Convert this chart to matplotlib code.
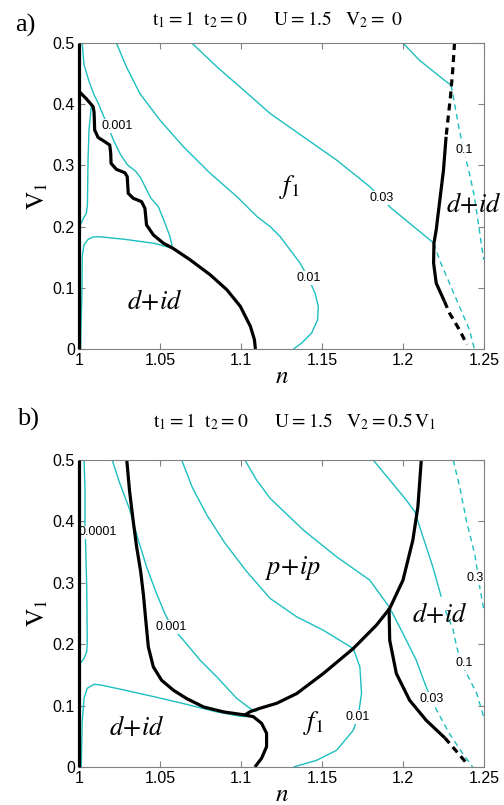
# -*- coding: utf-8 -*-
"""
Phase diagram in the (n, V1) plane, two panels: V2=0 and V2=0.5 V1.
Cyan lines are gap contours, black lines are phase boundaries.
"""
import matplotlib.pyplot as plt
import numpy as np

plt.rcParams['mathtext.fontset'] = 'stix'

CYAN = '#1cbfc0'
GREY = '#808080'

xticks = [1, 1.05, 1.1, 1.15, 1.2, 1.25]
xticklabels = ['1', '1.05', '1.1', '1.15', '1.2', '1.25']
yticks = [0, 0.1, 0.2, 0.3, 0.4, 0.5]
yticklabels = ['0', '0.1', '0.2', '0.3', '0.4', '0.5']

# ---------------- panel a) V2 = 0 ----------------
a_n1 = np.array([[1.0, 0.0], [1.0, 0.5]])
a_bound = np.array([
    [1.0, 0.421], [1.0045, 0.409], [1.0087, 0.396], [1.0093, 0.3875],
    [1.0097, 0.3576], [1.0118, 0.3457], [1.016, 0.3386], [1.019, 0.3332],
    [1.0196, 0.3196], [1.0198, 0.3033], [1.0231, 0.2935], [1.0283, 0.288],
    [1.0298, 0.2815], [1.0304, 0.2543], [1.0335, 0.2462], [1.0386, 0.2408],
    [1.0407, 0.2299], [1.0417, 0.2027], [1.0459, 0.1864], [1.0521, 0.1728],
    [1.0579, 0.1647], [1.0686, 0.1457], [1.081, 0.1212], [1.0913, 0.0967],
    [1.0996, 0.0696], [1.1058, 0.037], [1.1083, 0.0152], [1.1089, 0.0]])
a_right_top = np.array([[1.2318, 0.5], [1.2307, 0.4554], [1.2293, 0.412],
                        [1.2277, 0.3739], [1.2266, 0.3467]])
a_right_mid = np.array([[1.2266, 0.3467], [1.225, 0.2924], [1.2225, 0.238],
                        [1.2205, 0.1946], [1.2191, 0.1728], [1.2189, 0.1402],
                        [1.2205, 0.1076], [1.2256, 0.0777]])
a_right_bot = np.array([[1.2256, 0.0777], [1.2287, 0.0587], [1.2348, 0.0315],
                        [1.2395, 0.0071]])

a_c001 = np.array([
    [1.002, 0.5], [1.0031, 0.4645], [1.0062, 0.4374], [1.0093, 0.4155],
    [1.0123, 0.3992], [1.0144, 0.3856], [1.0216, 0.3394], [1.0257, 0.3175],
    [1.0298, 0.3012], [1.035, 0.2904], [1.0381, 0.2794], [1.0412, 0.2631],
    [1.0443, 0.2467], [1.049, 0.2325], [1.0531, 0.2054], [1.0562, 0.1835],
    [1.0578, 0.1645]])
a_c001b = np.array([
    [1.0076, 0.3966], [1.0062, 0.3579], [1.0056, 0.3088], [1.0053, 0.2521],
    [1.0052, 0.2353], [1.0046, 0.2222], [1.0025, 0.2124], [1.0009, 0.2026],
    [1.0003, 0.19]])
a_dome = np.array([
    [1.001, 0.0], [1.0012, 0.031], [1.0019, 0.0964], [1.002, 0.151],
    [1.0031, 0.17], [1.0056, 0.179], [1.0086, 0.183], [1.0123, 0.1835],
    [1.0278, 0.1793], [1.0463, 0.1727], [1.0578, 0.1645]])
a_c01 = np.array([
    [1.0231, 0.5], [1.0293, 0.4609], [1.0376, 0.4174], [1.05, 0.3739],
    [1.0645, 0.3304], [1.081, 0.287], [1.0975, 0.2489], [1.1099, 0.2163],
    [1.118, 0.2], [1.1242, 0.1837], [1.1303, 0.162], [1.1365, 0.1402],
    [1.1416, 0.1158], [1.1457, 0.0913], [1.1477, 0.0696], [1.1473, 0.0478],
    [1.1436, 0.026], [1.1375, 0.0098], [1.1324, 0.0]])
a_c03 = np.array([
    [1.0696, 0.5], [1.0852, 0.4609], [1.1017, 0.4228], [1.118, 0.3848],
    [1.1385, 0.3467], [1.159, 0.3087], [1.1795, 0.2652], [1.1867, 0.2462],
    [1.1928, 0.2299], [1.2041, 0.2054], [1.2191, 0.1728]])
a_c03_d = np.array([[1.2191, 0.1728], [1.2225, 0.1457], [1.2287, 0.1076],
                    [1.2348, 0.0696], [1.241, 0.0315], [1.2441, 0.0]])
a_c1 = np.array([[1.2, 0.5], [1.2102, 0.4717], [1.2205, 0.45],
                 [1.2256, 0.4391], [1.2297, 0.431]])
a_c1_d = np.array([[1.2297, 0.431], [1.2318, 0.4011], [1.2348, 0.3576],
                   [1.2375, 0.325], [1.241, 0.287], [1.2441, 0.2489],
                   [1.2471, 0.1946], [1.2498, 0.1457]])
a_labels = ['0.001', '0.01', '0.03', '0.1']
a_label_pos = [(1.0236, 0.364), (1.1416, 0.1158), (1.1867, 0.2462), (1.2375, 0.325)]

# ---------------- panel b) V2 = 0.5 V1 ----------------
b_n1 = np.array([[1.0, 0.0], [1.0, 0.5]])
b_bound1 = np.array([
    [1.0295, 0.5], [1.0312, 0.45], [1.0335, 0.40], [1.0355, 0.36],
    [1.0381, 0.318], [1.0398, 0.28], [1.0412, 0.24], [1.0428, 0.1957],
    [1.0459, 0.163], [1.051, 0.1413], [1.0583, 0.125], [1.0665, 0.1114],
    [1.0769, 0.0978], [1.0893, 0.0897], [1.1025, 0.0847], [1.1076, 0.082],
    [1.1127, 0.0712], [1.1158, 0.0549], [1.1158, 0.0331], [1.1127, 0.0142],
    [1.1086, 0.0]])
b_bound2 = np.array([
    [1.1025, 0.0847], [1.1055, 0.09], [1.1117, 0.0956], [1.122, 0.1037],
    [1.1344, 0.1196], [1.1508, 0.1522], [1.1693, 0.1929], [1.1836, 0.231],
    [1.1918, 0.2582], [1.2, 0.3043], [1.2061, 0.3696], [1.2092, 0.4239],
    [1.2113, 0.5]])
b_bound3 = np.array([[1.1914, 0.2582], [1.1918, 0.2065], [1.1959, 0.1522],
                     [1.2041, 0.1087], [1.2143, 0.0761], [1.2258, 0.0475]])
b_bound3_d = np.array([[1.2258, 0.0475], [1.2307, 0.0326], [1.2403, 0.003]])

b_c0001 = np.array([
    [1.0031, 0.5], [1.0037, 0.4539], [1.0037, 0.3969], [1.0041, 0.3616],
    [1.0048, 0.291], [1.0051, 0.2041], [1.0048, 0.1878], [1.0031, 0.177],
    [1.001, 0.1689], [1.0, 0.1607]])
b_dome = np.array([
    [1.0014, 0.0], [1.002, 0.0738], [1.0031, 0.1119], [1.0051, 0.1282],
    [1.0093, 0.1347], [1.0134, 0.1336], [1.0278, 0.1254], [1.0463, 0.1145],
    [1.0645, 0.1033], [1.0851, 0.0897], [1.0996, 0.0826], [1.1055, 0.0819]])
b_c001 = np.array([
    [1.0205, 0.5], [1.0252, 0.462], [1.0314, 0.4185], [1.0366, 0.3696],
    [1.0417, 0.3261], [1.0475, 0.285], [1.053, 0.25], [1.0572, 0.2283],
    [1.0645, 0.2065], [1.0748, 0.1739], [1.0851, 0.1467], [1.0973, 0.1119],
    [1.1055, 0.0956], [1.1096, 0.0901]])
b_c01 = np.array([
    [1.0634, 0.5], [1.07, 0.455], [1.079, 0.41], [1.09, 0.365],
    [1.103, 0.32], [1.118, 0.2745], [1.1344, 0.2446], [1.1508, 0.2228],
    [1.1693, 0.1929], [1.1734, 0.163], [1.1744, 0.1196], [1.1723, 0.0815],
    [1.1693, 0.0598], [1.159, 0.0272], [1.1467, 0.0109], [1.1324, 0.0]])
b_c03 = np.array([
    [1.1024, 0.5], [1.1096, 0.4674], [1.118, 0.4375], [1.1385, 0.3859],
    [1.159, 0.3424], [1.1795, 0.3043], [1.1918, 0.2595], [1.2, 0.2174],
    [1.2082, 0.1739], [1.2143, 0.1304], [1.2174, 0.1114]])
b_c03_d = np.array([[1.2174, 0.1114], [1.2207, 0.0928], [1.2287, 0.0543],
                    [1.2369, 0.0217], [1.243, 0.0]])
b_c1 = np.array([[1.1816, 0.5], [1.1918, 0.4674], [1.202, 0.4348],
                 [1.2073, 0.4158], [1.2123, 0.375], [1.2184, 0.3261],
                 [1.2236, 0.2772]])
b_c1_d = np.array([[1.2262, 0.255], [1.231, 0.2231], [1.2331, 0.196],
                   [1.236, 0.169], [1.2455, 0.12], [1.2498, 0.0815]])
b_c3_d = np.array([[1.231, 0.5], [1.2352, 0.4539], [1.2393, 0.3995],
                   [1.2444, 0.3453], [1.2475, 0.291], [1.25, 0.255]])
b_labels = ['0.0001', '0.001', '0.01', '0.03', '0.1', '0.3']
b_label_pos = [(1.0118, 0.382), (1.0572, 0.2283), (1.1723, 0.0815),
               (1.2174, 0.1114), (1.2375, 0.169), (1.2444, 0.308)]


def line(ax, pts, color, lw, dashed=False, clip=True, z=2):
    ls = (0, (4, 3)) if dashed else '-'
    ax.plot(pts[:, 0], pts[:, 1], color=color, lw=lw, ls=ls, zorder=z,
            solid_joinstyle='round', solid_capstyle='butt', clip_on=clip)


def setup(ax):
    ax.set_xlim(1, 1.25)
    ax.set_ylim(0, 0.5)
    ax.set_xticks(xticks)
    ax.set_xticklabels(xticklabels, family='Liberation Sans', fontsize=11.5)
    ax.set_yticks(yticks)
    ax.set_yticklabels(yticklabels, family='Liberation Sans', fontsize=11.5)
    ax.tick_params(direction='in', top=True, right=True, length=4,
                   color=GREY, pad=3)
    for s in ax.spines.values():
        s.set_color(GREY)
    ax.set_xlabel(r'$n$', fontsize=18, labelpad=-3)
    ax.set_ylabel(r'$\mathrm{V_1}$', fontsize=18, labelpad=2)


def contour_label(ax, txt, pos):
    ax.text(pos[0], pos[1], txt, fontsize=9, family='Liberation Sans',
            ha='center', va='center',
            bbox=dict(facecolor='white', edgecolor='none', pad=0.6))


fig = plt.figure(figsize=(5.04, 8.05), dpi=100)
axa = fig.add_axes([0.1567, 0.5665, 0.8036, 0.3801])
axb = fig.add_axes([0.1567, 0.0472, 0.8036, 0.3814])

# panel a
for c in [a_c001, a_c001b, a_dome, a_c01, a_c03, a_c1]:
    line(axa, c, CYAN, 1.0)
for c in [a_c03_d, a_c1_d]:
    line(axa, c, CYAN, 1.0, dashed=True)
for t, p in zip(a_labels, a_label_pos):
    contour_label(axa, t, p)
line(axa, a_n1, 'black', 2.3, clip=False, z=4)
line(axa, a_bound, 'black', 2.3)
line(axa, a_right_mid, 'black', 2.3)
for c in [a_right_top, a_right_bot]:
    axa.plot(c[:, 0], c[:, 1], color='black', lw=2.3, ls=(0, (2.2, 1.6)))
setup(axa)
axa.text(1.047, 0.077, r'$d\!+\!id$', fontsize=19, ha='center', va='center')
axa.text(1.13, 0.265, r'$f_1$', fontsize=19, ha='center', va='center')
axa.text(1.2438, 0.235, r'$d\!+\!id$', fontsize=19, ha='center', va='center')
fig.text(0.55, 0.976, r'$\mathrm{t_1{=}1\ \ t_2{=}0\qquad U{=}1.5\ \ \ V_2{=}\ 0}$',
         fontsize=14, ha='center', va='center')
fig.text(0.05, 0.969, 'a)', family='Liberation Serif', fontsize=19,
         ha='center', va='center')

# panel b
for c in [b_c0001, b_dome, b_c001, b_c01, b_c03, b_c1]:
    line(axb, c, CYAN, 1.0)
for c in [b_c03_d, b_c1_d, b_c3_d]:
    line(axb, c, CYAN, 1.0, dashed=True)
for t, p in zip(b_labels, b_label_pos):
    contour_label(axb, t, p)
line(axb, b_n1, 'black', 2.3, clip=False, z=4)
for c in [b_bound1, b_bound2, b_bound3]:
    line(axb, c, 'black', 2.3)
axb.plot(b_bound3_d[:, 0], b_bound3_d[:, 1], color='black', lw=2.3,
         ls=(0, (2.2, 1.6)))
setup(axb)
axb.text(1.036, 0.063, r'$d\!+\!id$', fontsize=19, ha='center', va='center')
axb.text(1.1446, 0.0712, r'$f_1$', fontsize=19, ha='center', va='center')
axb.text(1.132, 0.324, r'$p\!+\!ip$', fontsize=19, ha='center', va='center')
axb.text(1.2227, 0.2476, r'$d\!+\!id$', fontsize=19, ha='center', va='center')
fig.text(0.585, 0.476,
         r'$\mathrm{t_1{=}1\ \ t_2{=}0\qquad U{=}1.5\ \ \ V_2{=}0.5\,V_1}$',
         fontsize=14, ha='center', va='center')
fig.text(0.056, 0.479, 'b)', family='Liberation Serif', fontsize=19,
         ha='center', va='center')

fig.savefig('out.png', dpi=100)
